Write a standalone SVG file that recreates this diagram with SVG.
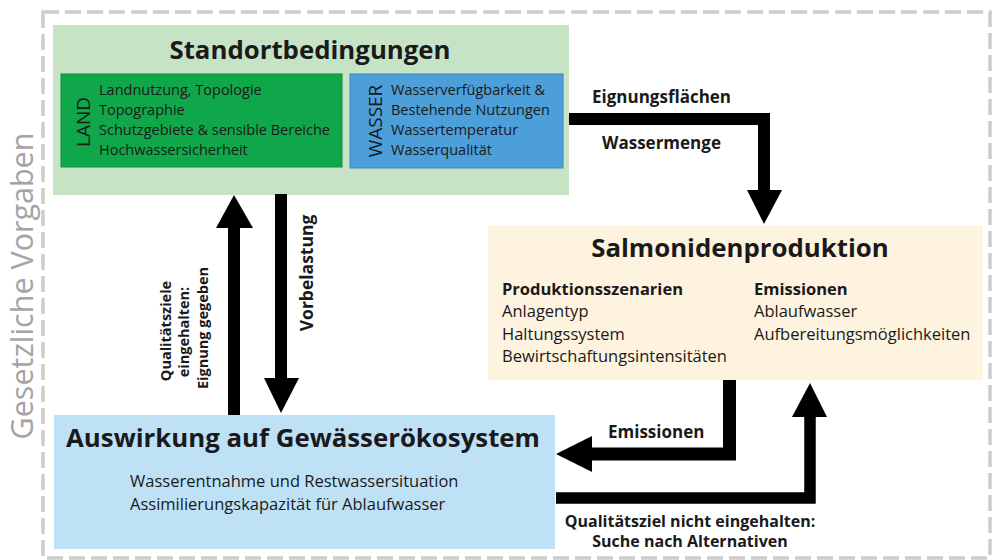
<svg xmlns="http://www.w3.org/2000/svg" width="992" height="560" viewBox="0 0 992 560">
<style>
text{font-family:"Open Sans","Liberation Sans",sans-serif;fill:#1a1a1a}
.b{font-weight:bold}
.t{font-size:25.8px;font-weight:bold;text-anchor:middle}
.l{font-size:17px;font-weight:bold}
.s{font-size:14.5px}
.m{font-size:16.5px}
.c{stroke:#000;fill:none;stroke-linejoin:miter;stroke-linecap:butt}
.h{fill:#000}
</style>
<rect x="43" y="12" width="947" height="546" fill="none" stroke="#cdcdcd" stroke-width="3.5" stroke-dasharray="16 6"/>
<text transform="translate(33,286) rotate(-90)" style="font-size:30.5px;fill:#a4a4a4" text-anchor="middle">Gesetzliche Vorgaben</text>

<g id="standort">
<rect x="53" y="25" width="516" height="170" fill="#c6e4c5"/>
<text class="t" x="310" y="59">Standortbedingungen</text>
</g>
<g id="land">
<rect x="61" y="74" width="281" height="93" fill="#10a74a" stroke="#0d8c3c" stroke-width="1"/>
<text transform="translate(90,122) rotate(-90)" style="font-size:19px" text-anchor="middle">LAND</text>
<text class="s" x="99" y="95">Landnutzung, Topologie</text>
<text class="s" x="99" y="115">Topographie</text>
<text class="s" x="99" y="135">Schutzgebiete &amp; sensible Bereiche</text>
<text class="s" x="99" y="155">Hochwassersicherheit</text>
</g>
<g id="wasser">
<rect x="350" y="74" width="213" height="94" fill="#4c9fd9" stroke="#3b86c2" stroke-width="1"/>
<text transform="translate(382,121) rotate(-90)" style="font-size:19px" text-anchor="middle">WASSER</text>
<text class="s" x="391" y="95">Wasserverfügbarkeit &amp;</text>
<text class="s" x="391" y="115">Bestehende Nutzungen</text>
<text class="s" x="391" y="135">Wassertemperatur</text>
<text class="s" x="391" y="155">Wasserqualität</text>
</g>
<g id="salmoniden">
<rect x="488" y="226" width="495" height="154" fill="#fdf3de"/>
<text class="t" x="740" y="257">Salmonidenproduktion</text>
<text class="m b" x="502" y="295">Produktionsszenarien</text>
<text class="m" x="502" y="317">Anlagentyp</text>
<text class="m" x="502" y="340">Haltungssystem</text>
<text class="m" x="502" y="362">Bewirtschaftungsintensitäten</text>
<text class="m b" x="754" y="295">Emissionen</text>
<text class="m" x="754" y="317">Ablaufwasser</text>
<text class="m" x="754" y="340">Aufbereitungsmöglichkeiten</text>
</g>
<g id="auswirkung">
<rect x="54" y="415" width="501" height="134" fill="#bee1f6"/>
<text class="t" x="303" y="447">Auswirkung auf Gewässerökosystem</text>
<text class="m" x="130" y="487">Wasserentnahme und Restwassersituation</text>
<text class="m" x="130" y="510">Assimilierungskapazität für Ablaufwasser</text>
</g>
<g id="connectors">
<path class="c" d="M569,119 H764 V192" stroke-width="12"/>
<polygon class="h" points="747,190 782,190 764,224"/>
<text class="l" x="592" y="103">Eignungsflächen</text>
<text class="l" x="602" y="149">Wassermenge</text>

<path class="c" d="M234,415 V226" stroke-width="12"/>
<polygon class="h" points="216,228 253,228 234,195"/>
<text class="b" transform="translate(171,331) rotate(-90)" style="font-size:14.5px" text-anchor="middle">Qualitätsziele</text>
<text class="b" transform="translate(189,332) rotate(-90)" style="font-size:14.5px" text-anchor="middle">eingehalten:</text>
<text class="b" transform="translate(208,328) rotate(-90)" style="font-size:14.5px" text-anchor="middle">Eignung gegeben</text>

<path class="c" d="M281,194 V380" stroke-width="12"/>
<polygon class="h" points="264,378 299,378 281,413"/>
<text class="b" transform="translate(313,273) rotate(-90)" style="font-size:17.5px" text-anchor="middle">Vorbelastung</text>

<path class="c" d="M729.5,380 V454 H590" stroke-width="13"/>
<polygon class="h" points="592,436 592,472 556,454"/>
<text class="l" x="608" y="438">Emissionen</text>

<path class="c" d="M556,498 H810 V415" stroke-width="11.5"/>
<polygon class="h" points="792,417 827,417 810,383"/>
<text class="b" x="690" y="527" style="font-size:16px" text-anchor="middle">Qualitätsziel nicht eingehalten:</text>
<text class="b" x="690" y="547" style="font-size:16px" text-anchor="middle">Suche nach Alternativen</text>
</g>
</svg>
